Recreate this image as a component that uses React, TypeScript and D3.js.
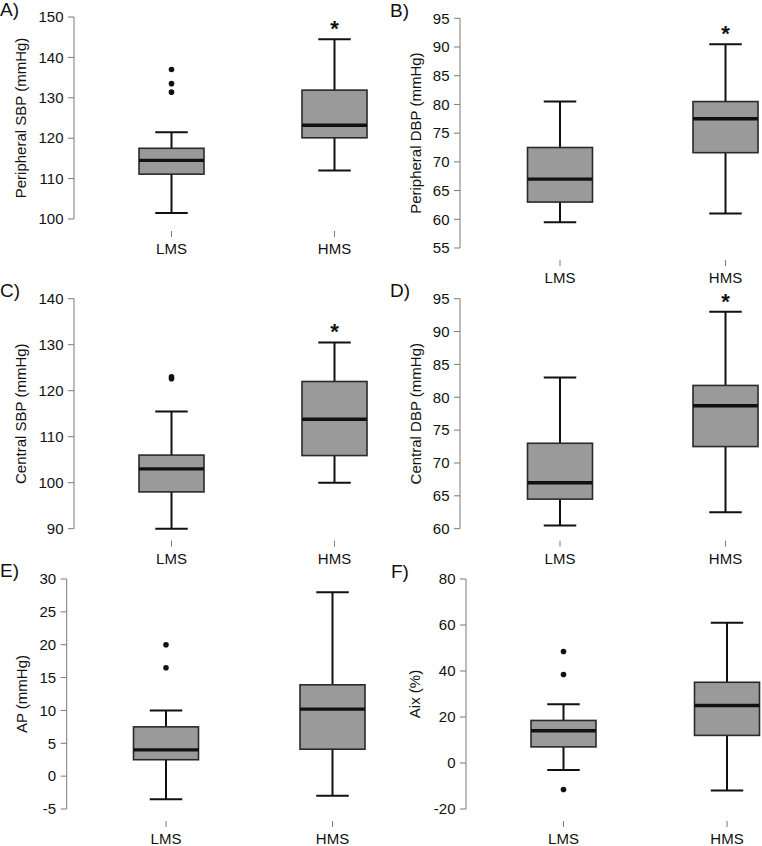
import React from "react";
import * as d3 from "d3";

// Two groups compared in every panel
const groups = ["LMS", "HMS"];

const panelTags = ["A)", "B)", "C)", "D)", "E)", "F)"];
const yTitles = [
  "Peripheral SBP (mmHg)",
  "Peripheral DBP (mmHg)",
  "Central SBP (mmHg)",
  "Central DBP (mmHg)",
  "AP (mmHg)",
  "Aix (%)",
];
const yDomains = [
  [100, 150],
  [55, 95],
  [90, 140],
  [60, 95],
  [-5, 30],
  [-20, 80],
];
const tickSteps = [10, 5, 10, 5, 5, 20];

// box stats: [lower whisker, Q1, median, Q3, upper whisker]
const lmsStats = [
  [101.5, 111.1, 114.5, 117.5, 121.5],
  [59.5, 63.0, 67.0, 72.5, 80.5],
  [90.0, 98.0, 103.0, 106.0, 115.5],
  [60.5, 64.5, 67.0, 73.0, 83.0],
  [-3.5, 2.5, 4.0, 7.5, 10.0],
  [-3.0, 7.0, 14.0, 18.5, 25.5],
];
const hmsStats = [
  [112.0, 120.1, 123.2, 131.9, 144.5],
  [61.0, 71.6, 77.5, 80.5, 90.5],
  [100.0, 105.9, 113.8, 122.0, 130.5],
  [62.5, 72.5, 78.7, 81.8, 93.0],
  [-3.0, 4.1, 10.2, 13.9, 28.0],
  [-12.0, 12.0, 25.0, 35.1, 61.0],
];
const lmsOutliers = [
  [137.0, 133.5, 131.4],
  [],
  [123.0, 122.6],
  [],
  [20.0, 16.5],
  [48.5, 38.5, -11.5],
];
const hmsOutliers = [[], [], [], [], [], []];
// significant difference marker above HMS
const significant = [true, true, true, true, false, false];

// panel placement on the page
const frames = [
  { axisX: 74, top: 17, bottom: 219, c0: 171.5, c1: 334.5, tagX: 0, tagY: 16, titleX: 26 },
  { axisX: 460, top: 18.3, bottom: 248, c0: 560, c1: 725.5, tagX: 390, tagY: 17, titleX: 421 },
  { axisX: 74, top: 298.7, bottom: 528.7, c0: 171.5, c1: 334.5, tagX: 0, tagY: 297, titleX: 26 },
  { axisX: 460, top: 298.7, bottom: 528.7, c0: 560, c1: 725.5, tagX: 390, tagY: 297, titleX: 421 },
  { axisX: 66.7, top: 579, bottom: 809, c0: 166, c1: 332.5, tagX: 0, tagY: 577, titleX: 27 },
  { axisX: 466, top: 579, bottom: 809, c0: 563.5, c1: 727, tagX: 391, tagY: 578, titleX: 420 },
];

const FONT = "'Liberation Sans', Arial, Helvetica, sans-serif";
const BOX_W = 65;
const TXT = 15;

function Panel({ i }) {
  const f = frames[i];
  const [lo, hi] = yDomains[i];
  const y = d3.scaleLinear().domain([lo, hi]).range([f.bottom, f.top]);
  const x = d3.scalePoint().domain(groups).range([f.c0, f.c1]);
  const ticks = d3.range(lo, hi + tickSteps[i] / 2, tickSteps[i]);
  const stats = [lmsStats[i], hmsStats[i]];
  const outs = [lmsOutliers[i], hmsOutliers[i]];

  return (
    <g>
      <text x={f.tagX} y={f.tagY} fontSize={19} fill="#111">{panelTags[i]}</text>
      <text
        transform={`translate(${f.titleX},${(f.top + f.bottom) / 2}) rotate(-90)`}
        textAnchor="middle"
        fontSize={TXT}
        fill="#111"
      >
        {yTitles[i]}
      </text>

      {/* y axis */}
      <line x1={f.axisX} x2={f.axisX} y1={y(lo)} y2={y(hi)} stroke="#7a7a7a" strokeWidth={1} />
      {ticks.map((t) => (
        <g key={t}>
          <line x1={f.axisX - 6} x2={f.axisX} y1={y(t)} y2={y(t)} stroke="#7a7a7a" strokeWidth={1} />
          <text x={f.axisX - 10.5} y={y(t)} dy="0.35em" textAnchor="end" fontSize={TXT} fill="#111">
            {t}
          </text>
        </g>
      ))}

      {groups.map((g, k) => {
        const cx = x(g);
        const [wLo, q1, med, q3, wHi] = stats[k];
        return (
          <g key={g}>
            {/* x tick and label */}
            <line x1={cx} x2={cx} y1={f.bottom + 12} y2={f.bottom + 18} stroke="#7a7a7a" strokeWidth={1} />
            <text x={cx} y={f.bottom + 35} textAnchor="middle" fontSize={TXT} fill="#111">{g}</text>

            {/* whiskers */}
            <line x1={cx} x2={cx} y1={y(wHi)} y2={y(q3)} stroke="#111" strokeWidth={2} />
            <line x1={cx} x2={cx} y1={y(q1)} y2={y(wLo)} stroke="#111" strokeWidth={2} />
            <line x1={cx - BOX_W / 4} x2={cx + BOX_W / 4} y1={y(wHi)} y2={y(wHi)} stroke="#111" strokeWidth={2} />
            <line x1={cx - BOX_W / 4} x2={cx + BOX_W / 4} y1={y(wLo)} y2={y(wLo)} stroke="#111" strokeWidth={2} />

            {/* box */}
            <rect
              x={cx - BOX_W / 2}
              y={y(q3)}
              width={BOX_W}
              height={y(q1) - y(q3)}
              fill="#9a9a9a"
              stroke="#2a2a2a"
              strokeWidth={1.6}
            />
            <line x1={cx - BOX_W / 2} x2={cx + BOX_W / 2} y1={y(med)} y2={y(med)} stroke="#111" strokeWidth={3.4} />

            {outs[k].map((v, j) => (
              <circle key={j} cx={cx} cy={y(v)} r={2.8} fill="#111" />
            ))}

            {k === 1 && significant[i] && (
              <text x={cx} y={y(wHi) - 15 + 12} textAnchor="middle" fontSize={22} fontWeight="bold" fill="#111">
                *
              </text>
            )}
          </g>
        );
      })}
    </g>
  );
}

export default function App() {
  return (
    <svg
      width={762}
      height={846}
      style={{ position: "absolute", left: 0, top: 0, background: "#fff" }}
      fontFamily={FONT}
    >
      <rect width={762} height={846} fill="#fff" />
      {panelTags.map((_, i) => (
        <Panel key={i} i={i} />
      ))}
    </svg>
  );
}
